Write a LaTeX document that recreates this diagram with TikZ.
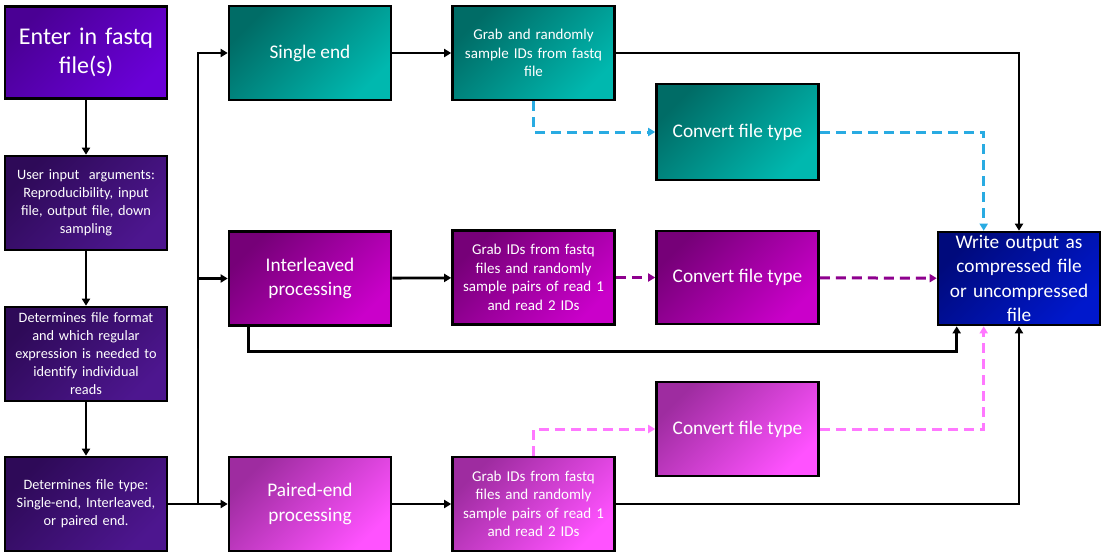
\documentclass[tikz,border=0pt]{standalone}
\usepackage{fontspec}
\setmainfont{Carlito}
\usetikzlibrary{arrows.meta,positioning}

\definecolor{entA}{HTML}{4A0094}\definecolor{entB}{HTML}{6A00D8}
\definecolor{lefA}{HTML}{2E0A58}\definecolor{lefB}{HTML}{4D168F}
\definecolor{tealA}{HTML}{006C66}\definecolor{tealB}{HTML}{00B8AF}
\definecolor{intA}{HTML}{760078}\definecolor{intB}{HTML}{CA00CA}
\definecolor{parA}{HTML}{9E2CA0}\definecolor{parB}{HTML}{FF52FF}
\definecolor{outA}{HTML}{000A7C}\definecolor{outB}{HTML}{0018CC}
\definecolor{dashBlue}{HTML}{29ABE2}
\definecolor{dashPurple}{HTML}{8E008E}
\definecolor{dashPink}{HTML}{FF78FF}

\tikzset{
  box/.style={draw=black, line width=2.6pt, minimum width=162pt, minimum height=94pt,
    text=white, align=center, inner sep=2pt, shading angle=45},
  fill grad/.style 2 args={top color=#1, bottom color=#2, shading angle=45},
  bigtxt/.style={font=\fontsize{24}{29}\selectfont},
  midtxt/.style={font=\fontsize{19.3}{24.5}\selectfont},
  lefttxt/.style={font=\fontsize{14.3}{18}\selectfont},
  smalltxt/.style={font=\fontsize{15}{18.5}\selectfont},
  flow/.style={line width=2.8pt, -{Triangle[length=7pt,width=8pt]}},
  plain/.style={line width=2.8pt},
  dashflow/.style={line width=3pt, dash pattern=on 10pt off 6pt, -{Triangle[length=7pt,width=8pt]}},
}

\begin{document}
\begin{tikzpicture}[x=1pt,y=-1pt]
\useasboundingbox (0,0) rectangle (1108,558);

% left column
\node[box, fill grad={entA}{entB}, bigtxt, text width=155pt, minimum height=92pt] (enter) at (86,52.5) {Enter in fastq\\file(s)};
\node[box, fill grad={lefA}{lefB}, lefttxt, text width=155pt] (user) at (86,203) {User input~ arguments:\\Reproducibility, input\\file, output file, down\\sampling};
\node[box, fill grad={lefA}{lefB}, lefttxt, text width=155pt] (format) at (86,354) {Determines file format\\and which regular\\expression is needed to\\identify individual\\reads};
\node[box, fill grad={lefA}{lefB}, lefttxt, text width=155pt] (type) at (86,504) {Determines file type:\\Single-end, Interleaved,\\or paired end.};

% branches
\node[box, fill grad={tealA}{tealB}, midtxt] (single) at (310,53) {Single end};
\node[box, fill grad={intA}{intB}, midtxt] (inter) at (310,278.5) {Interleaved\\processing};
\node[box, fill grad={parA}{parB}, midtxt] (paired) at (310,504) {Paired-end\\processing};

\node[box, fill grad={tealA}{tealB}, smalltxt, text width=155pt] (g1) at (533.5,53) {Grab and randomly\\sample IDs from fastq\\file};
\node[box, fill grad={intA}{intB}, smalltxt, text width=155pt] (g2) at (533.5,277.5) {Grab IDs from fastq\\files and randomly\\sample pairs of read 1\\and read 2 IDs};
\node[box, fill grad={parA}{parB}, smalltxt, text width=155pt] (g3) at (533.5,504) {Grab IDs from fastq\\files and randomly\\sample pairs of read 1\\and read 2 IDs};

\node[box, fill grad={tealA}{tealB}, midtxt, minimum height=96pt] (c1) at (737.5,132) {Convert file type};
\node[box, fill grad={intA}{intB}, midtxt, minimum height=93pt] (c2) at (737.5,277.5) {Convert file type};
\node[box, fill grad={parA}{parB}, midtxt] (c3) at (737.5,429) {Convert file type};

\node[box, fill grad={outA}{outB}, midtxt, text width=158pt, minimum height=93pt, inner sep=0pt] (write) at (1019,278.5) {Write output as\\compressed file\\or uncompressed\\file};

% left column flow
\draw[flow] (enter) -- (user);
\draw[flow] (user) -- (format);
\draw[flow] (format) -- (type);

% split into the three processing routes
\coordinate (split) at (198,504);
\draw[plain] (type.east) -- (split);
\draw[flow] (split) |- (single.west);
\draw[flow] (split) |- (inter.west);
\draw[flow] (split) -- (paired.west);

\draw[flow] (single) -- (g1);
\draw[flow] (inter) -- (g2);
\draw[flow] (paired) -- (g3);

% solid routes into the output box
\draw[flow] (g1.east) -| (write.north);
\draw[flow] (g3.east) -| (write.south);
\draw[flow] ([xshift=21pt]inter.south west) -- ++(0,25) -| ([xshift=20pt]write.south west);

% optional conversions
\draw[dashflow, dashBlue] (g1.south) |- (c1.west);
\draw[dashflow, dashBlue] (c1.east) -| ([xshift=47pt]write.north west);
\draw[dashflow, dashPurple] (g2) -- (c2);
\draw[dashflow, dashPurple] (c2) -- (write);
\draw[dashflow, dashPink] (g3.north) |- (c3.west);
\draw[dashflow, dashPink] (c3.east) -| ([xshift=47pt]write.south west);
\end{tikzpicture}
\end{document}
